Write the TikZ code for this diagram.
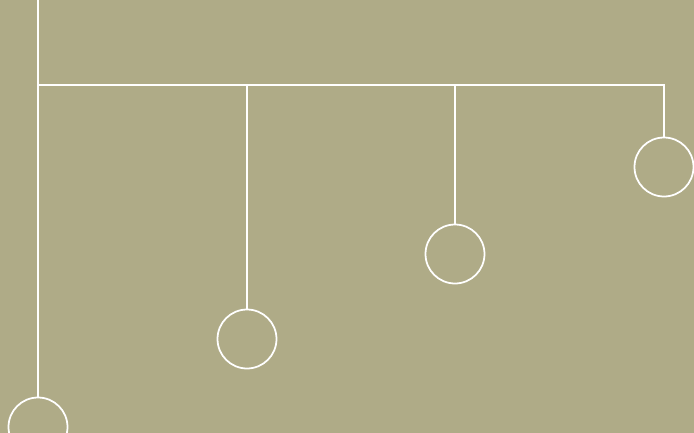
\documentclass[tikz,border=0pt]{standalone}
\usetikzlibrary{positioning}
\definecolor{olivebg}{RGB}{175,171,135}
\tikzset{
    % Shapes
    bob/.style={circle, draw=white, line width=1pt, minimum size=1.18cm, inner sep=0pt},
    % Lines
    wire/.style={draw=white, line width=1pt}
}
\begin{document}
\begin{tikzpicture}[x=0.02cm, y=-0.02cm]

\fill[olivebg] (0,0) rectangle (694,433);
\useasboundingbox (0,0) rectangle (694,433);

\coordinate (top) at (38,0);
\coordinate (hub) at (38,85);

\node[bob] (c1) at (38,427) {};
\node[bob] (c2) at (247,339) {};
\node[bob] (c3) at (455,254) {};
\node[bob] (c4) at (664,167) {};

\draw[wire] (top) -- (c1);
\draw[wire] (hub) -| (c4);
\draw[wire] (hub) -| (c3);
\draw[wire] (hub) -| (c2);

\end{tikzpicture}
\end{document}
